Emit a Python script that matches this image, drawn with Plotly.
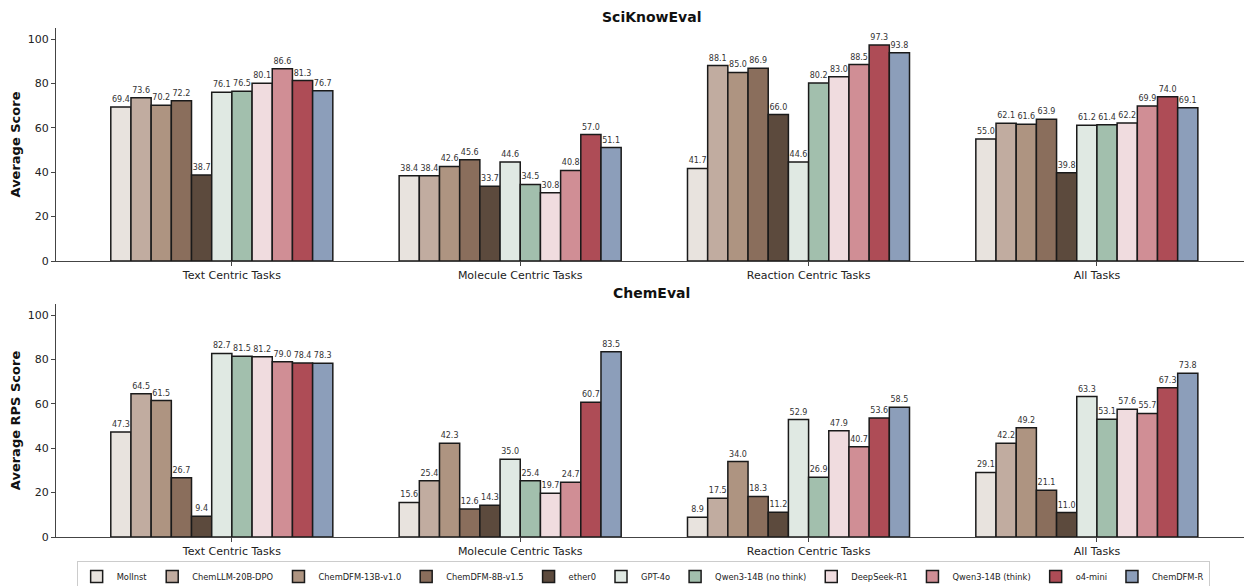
import plotly.graph_objects as go
from plotly.subplots import make_subplots

models = ["MolInst", "ChemLLM-20B-DPO", "ChemDFM-13B-v1.0", "ChemDFM-8B-v1.5", "ether0",
          "GPT-4o", "Qwen3-14B (no think)", "DeepSeek-R1", "Qwen3-14B (think)", "o4-mini", "ChemDFM-R"]
colors = ["#E8E3DE", "#C1ACA0", "#AE9481", "#8A6E5C", "#5C4A3D",
          "#E0E9E3", "#A2BFAD", "#F0DCDF", "#D08E95", "#AE4C56", "#8C9EBA"]
categories = ["Text Centric Tasks", "Molecule Centric Tasks", "Reaction Centric Tasks", "All Tasks"]

# SciKnowEval (Average Score), one list per category, ordered as models
sci_text = [69.4, 73.6, 70.2, 72.2, 38.7, 76.1, 76.5, 80.1, 86.6, 81.3, 76.7]
sci_mol = [38.4, 38.4, 42.6, 45.6, 33.7, 44.6, 34.5, 30.8, 40.8, 57.0, 51.1]
sci_rxn = [41.7, 88.1, 85.0, 86.9, 66.0, 44.6, 80.2, 83.0, 88.5, 97.3, 93.8]
sci_all = [55.0, 62.1, 61.6, 63.9, 39.8, 61.2, 61.4, 62.2, 69.9, 74.0, 69.1]

# ChemEval (Average RPS Score)
chem_text = [47.3, 64.5, 61.5, 26.7, 9.4, 82.7, 81.5, 81.2, 79.0, 78.4, 78.3]
chem_mol = [15.6, 25.4, 42.3, 12.6, 14.3, 35.0, 25.4, 19.7, 24.7, 60.7, 83.5]
chem_rxn = [8.9, 17.5, 34.0, 18.3, 11.2, 52.9, 26.9, 47.9, 40.7, 53.6, 58.5]
chem_all = [29.1, 42.2, 49.2, 21.1, 11.0, 63.3, 53.1, 57.6, 55.7, 67.3, 73.8]

panels = [
    ("SciKnowEval", "Average Score", [sci_text, sci_mol, sci_rxn, sci_all]),
    ("ChemEval", "Average RPS Score", [chem_text, chem_mol, chem_rxn, chem_all]),
]

FONT = "DejaVu Sans"
W, H = 1244, 592   # slightly taller than the window: legend box runs off the bottom like the reference
bar_w = 0.07

fig = make_subplots(rows=2, cols=1)

for r, (title, ytitle, cols) in enumerate(panels, start=1):
    for i, m in enumerate(models):
        vals = [c[i] for c in cols]
        fig.add_trace(go.Bar(
            x=categories, y=vals, name=m,
            width=bar_w, offset=(i - 6) * bar_w,
            marker=dict(color=colors[i], line=dict(color="#1a1a1a", width=1.5)),
            text=[f"{v:.1f}" for v in vals], textposition="outside",
            textfont=dict(size=8, color="#333333", family=FONT),
            constraintext="none", cliponaxis=False,
            showlegend=(r == 1), legendgroup=m,
        ), row=r, col=1)

# domains (pixel-matched)
x0 = 56 / W
top_dom = [1 - 261 / H, 1 - 28 / H]
bot_dom = [1 - 537 / H, 1 - 304 / H]

axis_common = dict(showline=True, linecolor="#444444", linewidth=1.2, ticks="outside",
                   ticklen=4, tickcolor="#444444", showgrid=False, zeroline=False,
                   automargin=False,
                   tickfont=dict(size=11, color="#222222", family=FONT))

fig.update_xaxes(**axis_common, range=[-0.61, 3.51], domain=[x0, 1.0])
fig.update_yaxes(**axis_common, range=[0, 105], tickvals=[0, 20, 40, 60, 80, 100])
fig.update_layout(
    xaxis=dict(domain=[x0, 1.0]), xaxis2=dict(domain=[x0, 1.0]),
    yaxis=dict(domain=top_dom, title=dict(text="<b>Average Score</b>",
               font=dict(size=13, color="#111111", family=FONT), standoff=4)),
    yaxis2=dict(domain=bot_dom, title=dict(text="<b>Average RPS Score</b>",
                font=dict(size=13, color="#111111", family=FONT), standoff=4)),
)

fig.add_annotation(text="<b>SciKnowEval</b>", x=0.524, y=1 - 17 / H, xref="paper", yref="paper",
                   showarrow=False, font=dict(size=14, color="#111111", family=FONT),
                   xanchor="center", yanchor="middle")
fig.add_annotation(text="<b>ChemEval</b>", x=0.524, y=1 - 293 / H, xref="paper", yref="paper",
                   showarrow=False, font=dict(size=14, color="#111111", family=FONT),
                   xanchor="center", yanchor="middle")

fig.update_layout(
    width=W, height=H,
    margin=dict(l=0, r=0, t=0, b=0),
    barmode="overlay",
    plot_bgcolor="white", paper_bgcolor="white",
    font=dict(family=FONT, color="#222222"),
    legend=dict(orientation="h", x=0.517, xanchor="center", y=0.0, yanchor="bottom",
                bordercolor="#cccccc", borderwidth=1, font=dict(size=8.3, family=FONT),
                itemwidth=30, tracegroupgap=0),
)

fig.write_html("out.html", config={"displayModeBar": False},
               post_script="document.body.style.margin='0';document.body.style.overflow='hidden';")
